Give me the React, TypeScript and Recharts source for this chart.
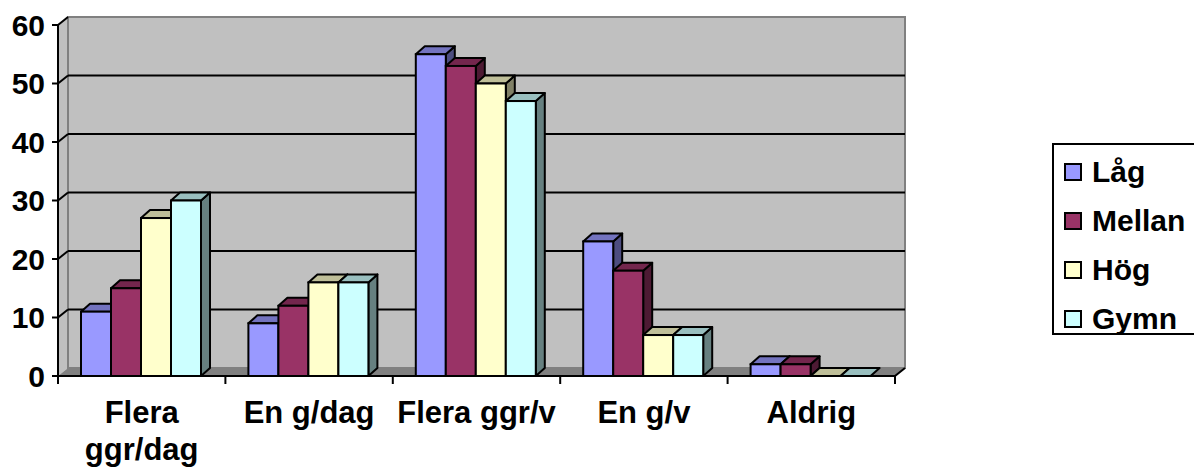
import React from "react";
import { BarChart, Bar, XAxis, YAxis, Legend, Customized } from "recharts";

const categories = ["Flera ggr/dag", "En g/dag", "Flera ggr/v", "En g/v", "Aldrig"];
const tickLines = [["Flera", "ggr/dag"], ["En g/dag"], ["Flera ggr/v"], ["En g/v"], ["Aldrig"]];
const lag = [11, 9, 55, 23, 2];
const mellan = [15, 12, 53, 18, 2];
const hog = [27, 16, 50, 7, 0];
const gymn = [30, 16, 47, 7, 0];
const yTicks = [0, 10, 20, 30, 40, 50, 60];

const seriesNames = ["Låg", "Mellan", "Hög", "Gymn"];
const seriesFront = ["#9999FF", "#993366", "#FFFFCC", "#CCFFFF"];
const seriesTop = ["#7373BF", "#73264D", "#BFBF99", "#99BFBF"];
const seriesSide = ["#4D4D80", "#4D1A33", "#808066", "#668080"];

const data = categories.map((c, i) => ({
  name: c,
  "Låg": lag[i],
  Mellan: mellan[i],
  "Hög": hog[i],
  Gymn: gymn[i],
}));

const W = 1194;
const H = 471;
const LEFT = 58;
const TOP = 25;
const RIGHT = 895;
const BOTTOM = 376;
const DX = 10;
const DY = 8;
const BDX = 9;
const BDY = 8;
const Y_MAX = 60;
const FONT = "'Liberation Sans', Arial, sans-serif";

const yPos = (v: number) => BOTTOM - (v / Y_MAX) * (BOTTOM - TOP);

const Walls = () => (
  <g>
    <polygon
      points={`${LEFT},${TOP} ${LEFT + DX},${TOP - DY} ${LEFT + DX},${BOTTOM - DY} ${LEFT},${BOTTOM}`}
      fill="#C0C0C0"
      stroke="none"
    />
    <rect x={LEFT + DX} y={TOP - DY} width={RIGHT - LEFT} height={BOTTOM - TOP} fill="#C0C0C0" stroke="#808080" strokeWidth={2} />
    <polygon
      points={`${LEFT},${BOTTOM} ${LEFT + DX},${BOTTOM - DY} ${RIGHT + DX},${BOTTOM - DY} ${RIGHT},${BOTTOM}`}
      fill="#808080"
      stroke="none"
    />
    {yTicks
      .filter((v) => v > 0 && v < Y_MAX)
      .map((v) => {
        const y = yPos(v);
        return (
          <g key={v}>
            <line x1={LEFT + DX} y1={y - DY} x2={RIGHT + DX} y2={y - DY} stroke="#000" strokeWidth={2} />
            <line x1={LEFT} y1={y} x2={LEFT + DX} y2={y - DY} stroke="#000" strokeWidth={2} />
          </g>
        );
      })}
    <line x1={LEFT} y1={TOP} x2={LEFT + DX} y2={TOP - DY} stroke="#000" strokeWidth={2} />
    <line x1={RIGHT} y1={BOTTOM} x2={RIGHT + DX} y2={BOTTOM - DY} stroke="#000" strokeWidth={2} />
  </g>
);

const makeShape = (si: number) => (p: any) => {
  const { x, y, width, height } = p;
  const front = seriesFront[si];
  const top = seriesTop[si];
  const side = seriesSide[si];
  const h = Math.max(0, height || 0);
  const yy = h === 0 ? BOTTOM : y;
  return (
    <g>
      {h > 0 && (
        <polygon
          points={`${x + width},${yy} ${x + width + BDX},${yy - BDY} ${x + width + BDX},${yy + h - BDY} ${x + width},${yy + h}`}
          fill={side}
          stroke="#000"
          strokeWidth={2}
          strokeLinejoin="round"
        />
      )}
      <polygon
        points={`${x},${yy} ${x + BDX},${yy - BDY} ${x + width + BDX},${yy - BDY} ${x + width},${yy}`}
        fill={top}
        stroke="#000"
        strokeWidth={2}
        strokeLinejoin="round"
      />
      {h > 0 && <rect x={x} y={yy} width={width} height={h} fill={front} stroke="#000" strokeWidth={2} />}
    </g>
  );
};

const XTick = (p: any) => {
  const { x, index } = p;
  const lines = tickLines[index] || [];
  const band = (RIGHT - LEFT) / categories.length;
  return (
    <g>
      <line x1={x - band / 2} y1={BOTTOM} x2={x - band / 2} y2={BOTTOM + 8} stroke="#000" strokeWidth={2} />
      {index === categories.length - 1 && (
        <line x1={x + band / 2} y1={BOTTOM} x2={x + band / 2} y2={BOTTOM + 8} stroke="#000" strokeWidth={2} />
      )}
      {lines.map((l, i) => (
        <text
          key={i}
          x={x}
          y={BOTTOM + 47 + i * 37}
          textAnchor="middle"
          fontFamily={FONT}
          fontWeight="bold"
          fontSize={31}
          fill="#000"
        >
          {l}
        </text>
      ))}
    </g>
  );
};

const LegendContent = () => (
  <div
    style={{
      width: 160,
      height: 192,
      border: "2px solid #000",
      background: "#fff",
      boxSizing: "border-box",
      paddingTop: 2,
    }}
  >
    {seriesNames.map((n, i) => (
      <div key={n} style={{ height: 49, display: "flex", alignItems: "center" }}>
        <div
          style={{
            width: 18,
            height: 18,
            marginLeft: 10,
            marginRight: 10,
            background: seriesFront[i],
            border: "2px solid #000",
            boxSizing: "border-box",
          }}
        />
        <span style={{ fontFamily: FONT, fontWeight: "bold", fontSize: 30, color: "#000", lineHeight: 1 }}>{n}</span>
      </div>
    ))}
  </div>
);

export default function App() {
  return (
    <div style={{ position: "absolute", left: 0, top: 0, width: W, height: H, background: "#fff", overflow: "hidden" }}>
      <BarChart
        width={W}
        height={H}
        data={data}
        margin={{ top: TOP, right: W - RIGHT, bottom: 0, left: 0 }}
        barCategoryGap={23}
        barGap={0}
      >
        <Customized component={Walls} />
        <YAxis
          width={LEFT}
          domain={[0, Y_MAX]}
          ticks={yTicks}
          interval={0}
          axisLine={{ stroke: "#000", strokeWidth: 2 }}
          tickLine={{ stroke: "#000", strokeWidth: 2 }}
          tickSize={6}
          tickMargin={7}
          tick={{ fill: "#000", fontFamily: FONT, fontWeight: "bold", fontSize: 30 }}
        />
        <XAxis
          dataKey="name"
          height={H - BOTTOM}
          axisLine={{ stroke: "#000", strokeWidth: 2 }}
          tickLine={false}
          interval={0}
          tick={<XTick />}
        />
        <Legend
          layout="vertical"
          align="center"
          verticalAlign="middle"
          content={<LegendContent />}
          wrapperStyle={{ left: 1052, top: 143, width: 160, height: 192 }}
        />
        {seriesNames.map((n, i) => (
          <Bar key={n} dataKey={n} fill={seriesFront[i]} isAnimationActive={false} shape={makeShape(i)} />
        ))}
      </BarChart>
    </div>
  );
}
